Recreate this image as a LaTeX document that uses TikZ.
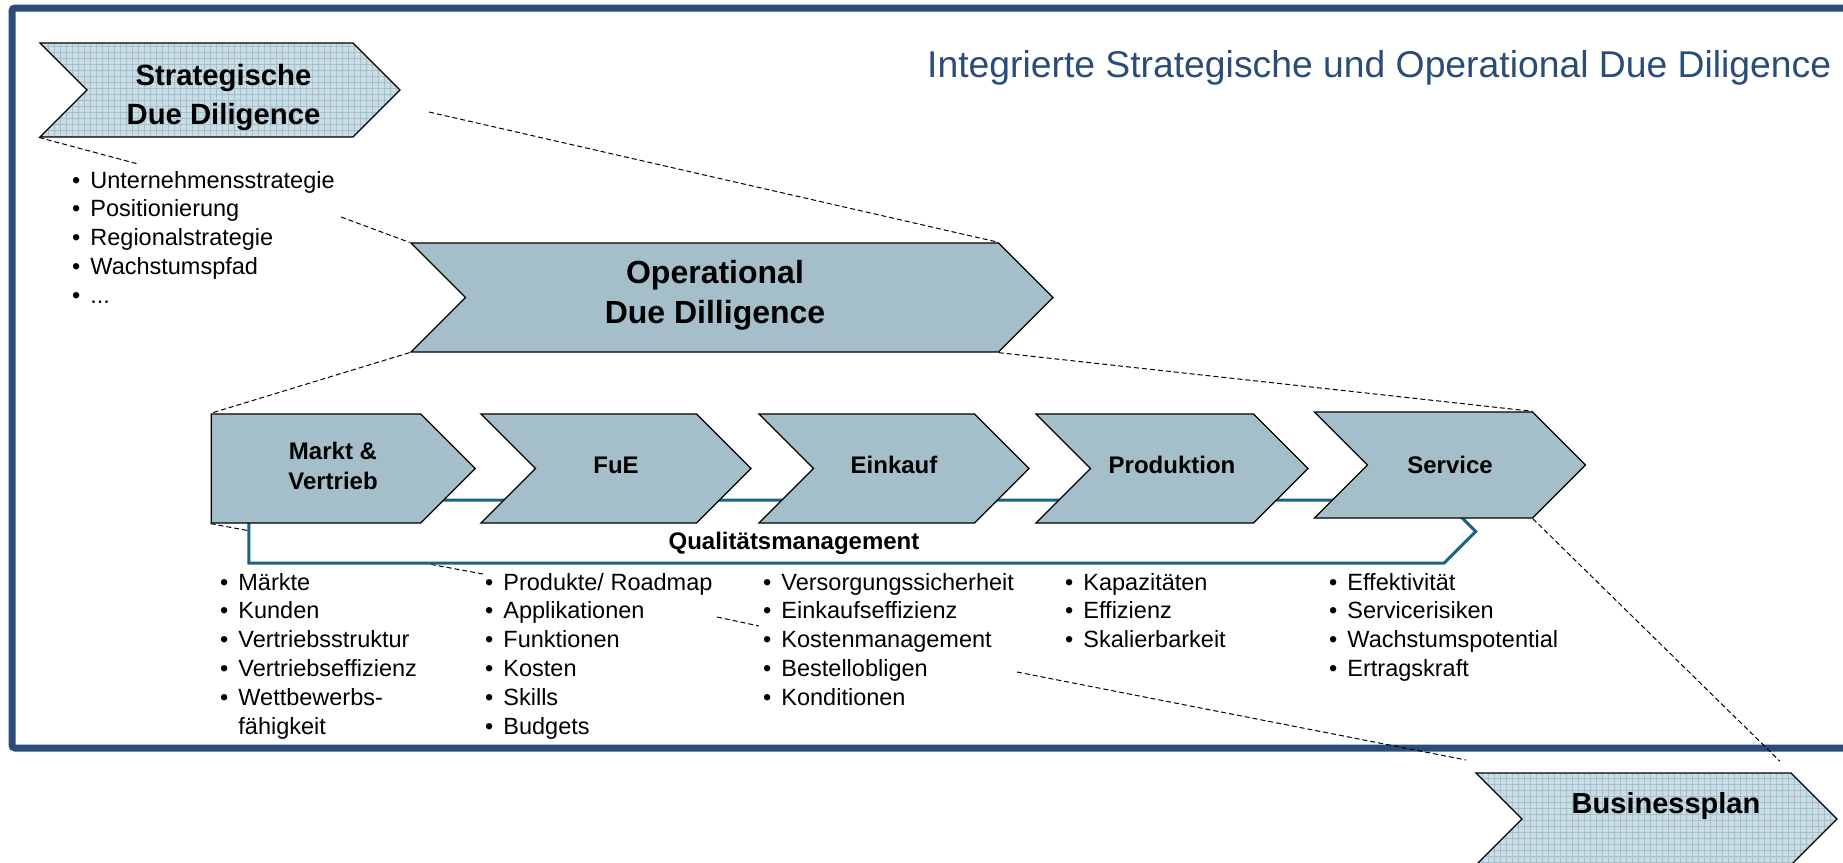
\documentclass[tikz,border=0pt]{standalone}
\usepackage{fontspec}
\setmainfont{Liberation Sans}
\usetikzlibrary{shapes.symbols, patterns.meta, backgrounds}

\definecolor{rahmenblau}{RGB}{41,77,120}
\definecolor{prozess}{RGB}{164,191,202}
\definecolor{rasterhell}{RGB}{203,221,228}
\definecolor{rasterdunkel}{RGB}{163,192,204}
\definecolor{qmblau}{RGB}{26,99,133}

\begin{document}
\begin{tikzpicture}
  [x=1pt, y=-1pt,
   pfeil/.style={shape=signal, signal to=east, signal from=west, draw, line width=1.3pt, inner sep=0pt, align=center},
   schritt/.style={pfeil, fill=prozess, minimum width=270pt, minimum height=109pt, text height=17.2pt, text depth=8pt, font=\bfseries\fontsize{24}{30}\selectfont},
   raster/.style={pfeil, preaction={fill=rasterhell}, pattern={Hatch[distance=6pt, line width=0.9pt]}, pattern color=rasterdunkel},
   beschriftung/.style={align=center, inner sep=0pt},
   liste/.style={anchor=base west, inner sep=0pt, font=\fontsize{23.5}{28.8}\selectfont},
   strich/.style={dash pattern=on 5pt off 3pt, line width=1pt}]

  \useasboundingbox (0,0) rectangle (1843,862);

  \node[anchor=base west, inner sep=0pt, text=rahmenblau, font=\fontsize{37.3}{40}\selectfont] (titel) at (927,77.5) {Integrierte Strategische und Operational Due Diligence};

  \node[raster, minimum width=360pt, minimum height=94pt] (strat) at (220,90) {};
  \node[beschriftung, font=\bfseries\fontsize{29.3}{39}\selectfont] (strattext) at (223.5,97) {Strategische\\Due Diligence};
  \node[pfeil, fill=prozess, minimum width=642pt, minimum height=109pt] (op) at (732,297.5) {};
  \node[beschriftung, font=\bfseries\fontsize{32}{40}\selectfont] (optext) at (715,295.5) {Operational\\Due Dilligence};

  \node[shape=signal, signal to=east, draw=qmblau, line width=3pt, fill=white, minimum width=1227pt, minimum height=63pt] (qm) at (846.5,531.5) {};
  \node[font=\bfseries\fontsize{24}{28}\selectfont] (qmtext) at (794,543) {Qualitätsmanagement};

  \node[schritt, signal from=nowhere, minimum width=264pt] (markt) at (316,468.5) {};
  \node[beschriftung, font=\bfseries\fontsize{24}{30}\selectfont] (markttext) at (333,466) {Markt \&\\Vertrieb};
  \node[schritt] (fue) at (616,468.5) {FuE};
  \node[schritt] (einkauf) at (894,468.5) {Einkauf};
  \node[schritt, minimum width=272pt] (produktion) at (1172,468.5) {Produktion};
  \node[schritt, minimum width=271pt, minimum height=106pt, text depth=0pt] (service) at (1450,465) {Service};

  \node[raster, minimum width=361pt, minimum height=92pt] (plan) at (1656.5,819) {};
  \node[beschriftung, font=\bfseries\fontsize{29}{36}\selectfont] (plantext) at (1666,806.3) {Businessplan};

  \node[liste] (stratliste) at (72,188) {\begin{tabular}[t]{@{}l@{\hspace{10pt}}l@{}}
    \textbullet & Unternehmensstrategie\\
    \textbullet & Positionierung\\
    \textbullet & Regionalstrategie\\
    \textbullet & Wachstumspfad\\
    \textbullet & ...
  \end{tabular}};
  \node[liste] (marktliste) at (220,590) {\begin{tabular}[t]{@{}l@{\hspace{10pt}}l@{}}
    \textbullet & Märkte\\
    \textbullet & Kunden\\
    \textbullet & Vertriebsstruktur\\
    \textbullet & Vertriebseffizienz\\
    \textbullet & Wettbewerbs-\\
                & fähigkeit
  \end{tabular}};
  \node[liste] (fueliste) at (485,590) {\begin{tabular}[t]{@{}l@{\hspace{10pt}}l@{}}
    \textbullet & Produkte/ Roadmap\\
    \textbullet & Applikationen\\
    \textbullet & Funktionen\\
    \textbullet & Kosten\\
    \textbullet & Skills\\
    \textbullet & Budgets
  \end{tabular}};
  \node[liste] (einkaufliste) at (763,590) {\begin{tabular}[t]{@{}l@{\hspace{10pt}}l@{}}
    \textbullet & Versorgungssicherheit\\
    \textbullet & Einkaufseffizienz\\
    \textbullet & Kostenmanagement\\
    \textbullet & Bestellobligen\\
    \textbullet & Konditionen
  \end{tabular}};
  \node[liste] (produktionliste) at (1065,590) {\begin{tabular}[t]{@{}l@{\hspace{10pt}}l@{}}
    \textbullet & Kapazitäten\\
    \textbullet & Effizienz\\
    \textbullet & Skalierbarkeit
  \end{tabular}};
  \node[liste] (serviceliste) at (1329,590) {\begin{tabular}[t]{@{}l@{\hspace{10pt}}l@{}}
    \textbullet & Effektivität\\
    \textbullet & Servicerisiken\\
    \textbullet & Wachstumspotential\\
    \textbullet & Ertragskraft
  \end{tabular}};

  \coordinate (stratende) at (138,164);
  \coordinate (posende) at (341,217);
  \coordinate (stratrechts) at (429,112);
  \coordinate (fuekante) at (483,574);
  \coordinate (applA) at (717,617);
  \coordinate (applB) at (759,626);
  \coordinate (kostenende) at (1017,672);
  \coordinate (planlinks) at (1466,760);

  \begin{scope}[on background layer]
    \draw[rahmenblau, line width=7pt, rounded corners=3pt] (1860,8) -- (12,8) -- (12,748) -- (1860,748);

    \draw[strich] (strat.south west) -- (stratende);
    \draw[strich] (posende) -- (op.north west);
    \draw[strich] (stratrechts) -- (op.north east);
    \draw[strich] (op.south west) -- (markt.north west);
    \draw[strich] (op.south east) -- (service.north east);
    \draw[strich] (markt.south west) -- (fuekante);
    \draw[strich] (applA) -- (applB);
    \draw[strich] (kostenende) -- (planlinks);
    \draw[strich, shorten >=16pt] (service.south east) -- (plan.north east);
  \end{scope}
\end{tikzpicture}
\end{document}
